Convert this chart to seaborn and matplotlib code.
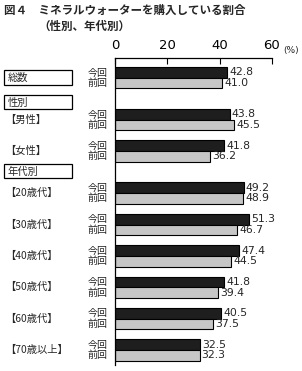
import matplotlib
matplotlib.use('Agg')
import matplotlib.pyplot as plt
import matplotlib.transforms as mtransforms
from matplotlib.patches import Rectangle
import pandas as pd
import seaborn as sns

# Data
groups = ['総数', '男性', '女性', '20歳代', '30歳代', '40歳代', '50歳代', '60歳代', '70歳以上']
row_labels = ['総数', '【男性】', '【女性】', '【20歳代】', '【30歳代】', '【40歳代】',
              '【50歳代】', '【60歳代】', '【70歳以上】']
current = [42.8, 43.8, 41.8, 49.2, 51.3, 47.4, 41.8, 40.5, 32.5]   # 今回
previous = [41.0, 45.5, 36.2, 48.9, 46.7, 44.5, 39.4, 37.5, 32.3]  # 前回
series = ['今回', '前回']
x_ticks = [0, 20, 40, 60]

# Layout: group centres (extra space before the 性別 and 年代別 sections)
group_pos = [0, 1.34, 2.34, 3.68, 4.68, 5.68, 6.68, 7.68, 8.68]
section_labels = [('総数', 0.0), ('性別', 0.79), ('年代別', 2.99)]

df = pd.DataFrame({
    'pos': group_pos * 2,
    'value': current + previous,
    '回': [series[0]] * len(current) + [series[1]] * len(previous),
})

sns.set_theme(style='white')
plt.rcParams['font.family'] = ['Noto Sans CJK JP', 'DejaVu Sans']

W, H = 302, 371
fig = plt.figure(figsize=(W / 100, H / 100), dpi=100)
ax = fig.add_axes([115 / W, 1 - 365 / H, (272 - 115) / W, (365 - 58) / H])

sns.barplot(data=df, x='value', y='pos', hue='回', hue_order=series, orient='y',
            native_scale=True, palette=['#1e1e1e', '#c6c6c6'], width=0.68,
            edgecolor='black', linewidth=0.8, saturation=1, legend=False, ax=ax)

ax.set_xlim(0, 60)
ax.set_ylim(9.16, -0.63)
ax.set_xlabel('')
ax.set_ylabel('')
ax.set_yticks([])
ax.set_xticks(x_ticks)
ax.xaxis.tick_top()
ax.tick_params(axis='x', direction='in', length=4, width=0.8, pad=4.5, labelsize=9.5,
               colors='black')
for lab in ax.get_xticklabels():
    lab.set_fontfamily('DejaVu Sans')
for side in ['right', 'bottom']:
    ax.spines[side].set_visible(False)
for side in ['top', 'left']:
    ax.spines[side].set_color('black')
    ax.spines[side].set_linewidth(0.9)

# value labels
for cont in ax.containers:
    ax.bar_label(cont, fmt='%.1f', padding=1.5, fontsize=7.8, family='DejaVu Sans')

# 今回 / 前回 labels
lab_tr = mtransforms.blended_transform_factory(fig.transFigure, ax.transData)
for cont, name in zip(ax.containers, series):
    for p in cont.patches:
        yc = p.get_y() + p.get_height() / 2
        ax.text(108 / W, yc, name, transform=lab_tr, ha='right', va='center',
                fontsize=7.2, clip_on=False)

# left row labels
for lbl, pos in zip(row_labels[1:], group_pos[1:]):
    ax.text(5 / W, pos, lbl, transform=lab_tr, ha='left', va='center', fontsize=7.4,
            clip_on=False)

# boxed section headers
for lbl, pos in section_labels:
    ax.add_patch(Rectangle((4 / W, pos - 0.24), 68 / W, 0.46, transform=lab_tr,
                           facecolor='white', edgecolor='black', linewidth=0.9,
                           clip_on=False))
    ax.text(8 / W, pos, lbl, transform=lab_tr, ha='left', va='center', fontsize=7.4,
            clip_on=False)

fig.text(283 / W, 1 - 51 / H, '(%)', fontsize=6.5, ha='left', va='center',
         family='DejaVu Sans')
fig.text(4 / W, 1 - 10 / H, '図４　ミネラルウォーターを購入している割合', fontsize=8.3,
         fontweight='bold', ha='left', va='center')
fig.text(38 / W, 1 - 26 / H, '（性別、年代別）', fontsize=8.3, fontweight='bold',
         ha='left', va='center')

fig.savefig('out.png', dpi=100)
